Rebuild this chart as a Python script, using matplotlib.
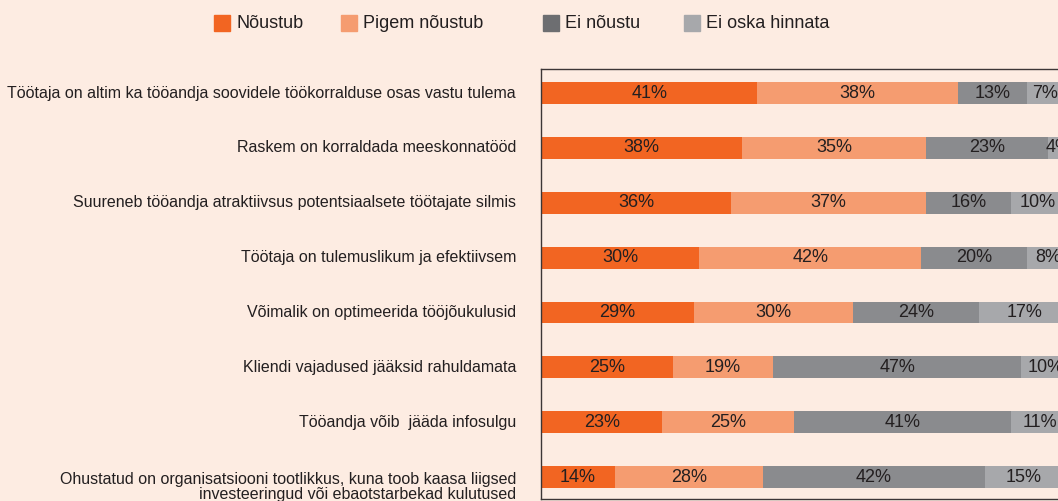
import matplotlib.pyplot as plt
from matplotlib.patches import Rectangle
import matplotlib.transforms as mtransforms
import numpy as np

plt.rcParams['font.family'] = ['Liberation Sans', 'DejaVu Sans']

categories = [
    "Töötaja on altim ka tööandja soovidele töökorralduse osas vastu tulema",
    "Raskem on korraldada meeskonnatööd",
    "Suureneb tööandja atraktiivsus potentsiaalsete töötajate silmis",
    "Töötaja on tulemuslikum ja efektiivsem",
    "Võimalik on optimeerida tööjõukulusid",
    "Kliendi vajadused jääksid rahuldamata",
    "Tööandja võib  jääda infosulgu",
    "Ohustatud on organisatsiooni tootlikkus, kuna toob kaasa liigsed\ninvesteeringud või ebaotstarbekad kulutused",
]
noustub = [41, 38, 36, 30, 29, 25, 23, 14]
pigem_noustub = [38, 35, 37, 42, 30, 19, 25, 28]
ei_noustu = [13, 23, 16, 20, 24, 47, 41, 42]
ei_oska = [7, 4, 10, 8, 17, 10, 11, 15]

series_names = ["Nõustub", "Pigem nõustub", "Ei nõustu", "Ei oska hinnata"]
bar_colors = ["#F26522", "#F59C70", "#8A8B8E", "#A7A8AB"]
legend_colors = ["#F26522", "#F59C70", "#6D6E71", "#A7A8AB"]

bg = "#FDECE2"
txt = "#231F20"

W, H = 1058, 501
fig = plt.figure(figsize=(W / 100, H / 100), dpi=100, facecolor=bg)
ax = fig.add_axes([541 / W, 2 / H, (1069 - 541) / W, (499 - 69) / H])
ax.set_facecolor(bg)

y = np.arange(len(categories))
left = np.zeros(len(categories))
for vals, col in zip([noustub, pigem_noustub, ei_noustu, ei_oska], bar_colors):
    vals = np.array(vals, dtype=float)
    bars = ax.barh(y, vals, left=left, height=0.4, color=col, edgecolor='none')
    ax.bar_label(bars, labels=[f"{v:.0f}%" for v in vals], label_type='center',
                 fontsize=13, color=txt, clip_on=False)
    left += vals

ax.set_xlim(0, 100)
ax.set_ylim(len(categories) - 1 + 0.40, -0.44)
ax.set_xticks([])
ax.set_yticks([])
for s in ['left', 'top', 'bottom']:
    ax.spines[s].set_color('#3C3636')
    ax.spines[s].set_linewidth(1.0)
ax.spines['right'].set_visible(False)

# category labels, right aligned left of the axis
trans = mtransforms.blended_transform_factory(ax.transAxes, ax.transData)
for i, lab in enumerate(categories):
    if "\n" in lab:
        ax.annotate(lab, xy=(0, i), xycoords=trans, xytext=(-18, 4),
                    textcoords='offset points', ha='right', va='top',
                    fontsize=11.5, color=txt, linespacing=1.05, multialignment='right')
    else:
        ax.annotate(lab, xy=(0, i), xycoords=trans, xytext=(-18, 0),
                    textcoords='offset points', ha='right', va='center',
                    fontsize=11.5, color=txt)

# legend drawn by hand to match the uneven spacing
legend_x = [214, 341, 543, 684]
for name, col, lx in zip(series_names, legend_colors, legend_x):
    fig.patches.append(Rectangle((lx / W, (H - 31) / H), 16 / W, 16 / H,
                                 transform=fig.transFigure, color=col))
    fig.text((lx + 22) / W, (H - 24) / H, name, fontsize=13, color=txt,
             ha='left', va='center')

fig.savefig("out.png", dpi=100, facecolor=bg)
